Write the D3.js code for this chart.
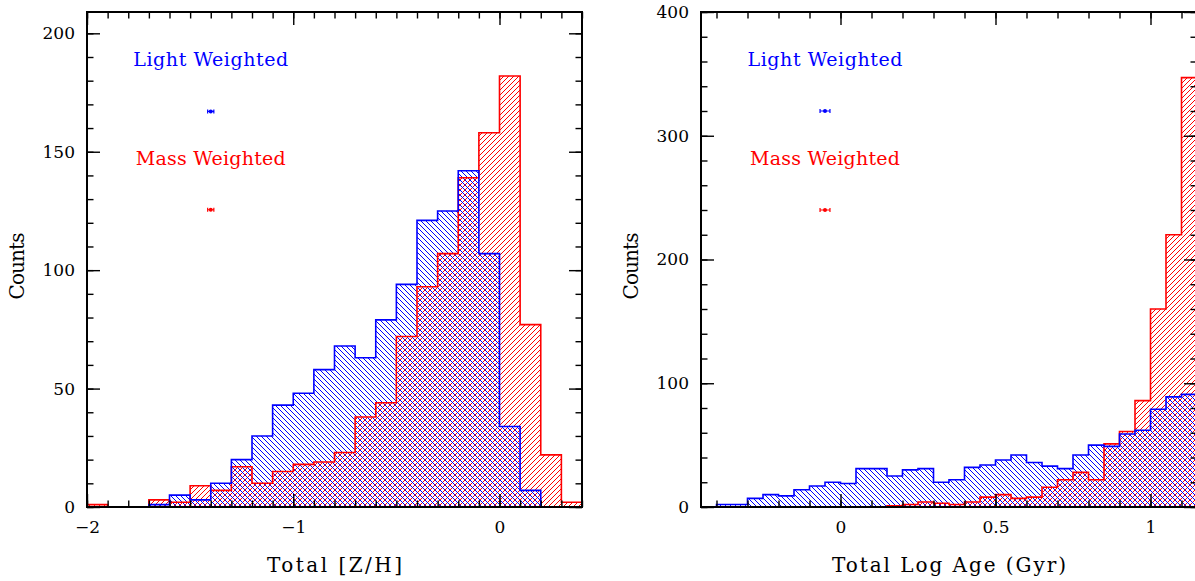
<!DOCTYPE html>
<html lang="en">
<head>
<meta charset="UTF-8"/>
<title>Light vs mass weighted histograms</title>
<script src="https://d3js.org/d3.v7.min.js"></script>
<style>
  body { margin: 0; background: #fff; }
  text { font-family: 'DejaVu Serif', serif; fill: #000; }
  .tick text { font-size: 17px; font-family: 'DejaVu Serif', serif; }
  .axis-title { font-size: 20px; }
  .legend { font-size: 19px; }
  .tick line { stroke: #000; stroke-width: 1.4px; }
</style>
</head>
<body>
<script>

// ---- data ----
// left panel: Total [Z/H], bins of 0.1 starting at -2.0
const zhBinStart = -2.0, zhBinWidth = 0.1
const zhLight = [0, 0, 0, 1, 5, 3, 10, 20, 30, 43, 48, 58, 68, 63, 79, 94, 121, 125, 142, 107, 34, 7, 0, 0]
const zhMass  = [1, 0, 0, 3, 2, 9, 7, 17, 10, 15, 18, 19, 23, 38, 44, 72, 93, 107, 139, 158, 182, 77, 22, 2]

// right panel: Total Log Age (Gyr), bins of 0.05 starting at -0.4
const ageBinStart = -0.4, ageBinWidth = 0.05
const ageLight = [2, 2, 7, 10, 9, 14, 17, 20, 19, 31, 31, 25, 30, 31, 20, 22, 32, 34, 38, 42, 36, 33, 31, 42, 50, 49, 59, 62, 79, 89, 91]
const ageMass  = [0, 0, 0, 0, 0, 0, 0, 0, 0, 0, 0, 1, 2, 4, 3, 2, 4, 8, 10, 7, 8, 16, 22, 28, 22, 51, 61, 86, 160, 220, 347]

const legendLabels = ["Light Weighted", "Mass Weighted"]
const seriesColors = ["#0000ff", "#ff0000"]

// typical error markers shown under each legend label
const zhMarkerX = -1.4, zhMarkerErr = 0.015, zhMarkerY = [167, 125.5]
const ageMarkerX = -0.05, ageMarkerErr = 0.016, ageMarkerY = [320, 240]

const zhTicks = [-2, -1, 0]
const ageTicks = [0, 0.5, 1]

// ---- layout ----
const outerWidth = 1195, outerHeight = 581
const plotTop = 12, plotBottom = 507
// the reference font is wide and evenly spaced, so stretch text to its widths
const legendWidths = [155, 150]

const svg = d3.select("body").append("svg")
    .attr("width", outerWidth)
    .attr("height", outerHeight)

// hatch patterns: blue "\" and red "/"
const defs = svg.append("defs")
const hatch = (id, color, d) => defs.append("pattern")
    .attr("id", id)
    .attr("patternUnits", "userSpaceOnUse")
    .attr("width", 5).attr("height", 5)
  .append("path")
    .attr("d", d)
    .attr("stroke", color)
    .attr("stroke-width", 1)
    .attr("fill", "none")
hatch("hatch-blue", seriesColors[0], "M0,0 L5,5 M-1,4 L1,6 M4,-1 L6,1")
hatch("hatch-red", seriesColors[1], "M0,5 L5,0 M-1,1 L1,-1 M4,6 L6,4")

const drawPanel = (opts) => {
  const { left, right, xDomain, yMax, binStart, binWidth, light, mass,
          xMajor, xMinorStep, yMajorStep, yMinorStep, xFormat, xTitle, xTitleWidth, countsX,
          markerX, markerErr, markerY } = opts

  const x = d3.scaleLinear().domain(xDomain).range([left, right])
  const y = d3.scaleLinear().domain([0, yMax]).range([plotBottom, plotTop])

  const g = svg.append("g")

  // clip to the frame
  const clipId = "clip" + left
  defs.append("clipPath").attr("id", clipId)
    .append("rect").attr("x", left).attr("y", plotTop)
    .attr("width", right - left).attr("height", plotBottom - plotTop)

  const stepPoints = values => {
    const pts = [[binStart, 0]]
    values.forEach((v, i) => {
      const x0 = binStart + i * binWidth
      pts.push([x0, v], [x0 + binWidth, v])
    })
    pts.push([binStart + values.length * binWidth, 0])
    return pts
  }
  const line = d3.line().x(d => x(d[0])).y(d => y(d[1]))

  const hist = g.append("g").attr("clip-path", `url(#${clipId})`)
  const series = [
    { values: mass, fill: "url(#hatch-red)", color: seriesColors[1] },
    { values: light, fill: "url(#hatch-blue)", color: seriesColors[0] }
  ]
  series.forEach(s => hist.append("path")
      .attr("d", line(stepPoints(s.values)) + "Z")
      .attr("fill", s.fill)
      .attr("stroke", "none"))
  series.forEach(s => hist.append("path")
      .attr("d", line(stepPoints(s.values)))
      .attr("fill", "none")
      .attr("stroke", s.color)
      .attr("stroke-width", 1.6))

  // ticks, inward on all four sides
  const xMinor = d3.range(Math.ceil(xDomain[0] / xMinorStep) * xMinorStep, xDomain[1] + 1e-9, xMinorStep)
  const yMajor = d3.range(0, yMax + 1e-9, yMajorStep)
  const yMinor = d3.range(0, yMax + 1e-9, yMinorStep)

  const axes = [
    [d3.axisBottom(x), `translate(0,${plotBottom})`, true],
    [d3.axisTop(x), `translate(0,${plotTop})`, false]
  ]
  axes.forEach(([ax, tr, labels]) => {
    g.append("g").attr("transform", tr)
      .call(ax.tickValues(xMinor).tickSize(-6.5).tickFormat(""))
      .call(a => a.select(".domain").remove())
    g.append("g").attr("transform", tr)
      .call(ax.tickValues(xMajor).tickSize(-13).tickPadding(14)
        .tickFormat(labels ? xFormat : ""))
      .call(a => a.select(".domain").remove())
  })
  const yAxes = [
    [d3.axisLeft(y), `translate(${left},0)`, true],
    [d3.axisRight(y), `translate(${right},0)`, false]
  ]
  yAxes.forEach(([ax, tr, labels]) => {
    g.append("g").attr("transform", tr)
      .call(ax.tickValues(yMinor).tickSize(-6.5).tickFormat(""))
      .call(a => a.select(".domain").remove())
    g.append("g").attr("transform", tr)
      .call(ax.tickValues(yMajor).tickSize(-13).tickPadding(12)
        .tickFormat(labels ? d3.format("d") : ""))
      .call(a => a.select(".domain").remove())
  })

  // frame
  g.append("rect")
    .attr("x", left).attr("y", plotTop)
    .attr("width", right - left).attr("height", plotBottom - plotTop)
    .attr("fill", "none").attr("stroke", "#000").attr("stroke-width", 2)

  // axis titles
  g.append("text")
    .attr("class", "axis-title")
    .attr("x", (left + right) / 2).attr("y", 572)
    .attr("text-anchor", "middle")
    .attr("textLength", xTitleWidth)
    .attr("lengthAdjust", "spacing")
    .text(xTitle)
  g.append("text")
    .attr("class", "axis-title")
    .attr("transform", `translate(${countsX},266) rotate(-90)`)
    .attr("text-anchor", "middle")
    .attr("textLength", 67)
    .attr("lengthAdjust", "spacing")
    .text("Counts")

  // legend labels with typical error markers
  legendLabels.forEach((label, i) => {
    const mx = x(markerX), my = y(markerY[i])
    g.append("text")
      .attr("class", "legend")
      .attr("x", mx).attr("y", my - 45)
      .attr("text-anchor", "middle")
      .attr("textLength", legendWidths[i])
      .attr("lengthAdjust", "spacing")
      .style("fill", seriesColors[i])
      .text(label)
    const x0 = x(markerX - markerErr), x1 = x(markerX + markerErr)
    g.append("path")
      .attr("d", `M${x0},${my}H${x1}M${x0},${my - 2}V${my + 2}M${x1},${my - 2}V${my + 2}`)
      .attr("stroke", seriesColors[i]).attr("stroke-width", 1.2).attr("fill", "none")
    g.append("circle")
      .attr("cx", mx).attr("cy", my).attr("r", 2)
      .attr("fill", seriesColors[i])
  })
}

drawPanel({
  left: 87, right: 582, xDomain: [-2, 0.4], yMax: 209,
  binStart: zhBinStart, binWidth: zhBinWidth, light: zhLight, mass: zhMass,
  xMajor: zhTicks, xMinorStep: 0.1, yMajorStep: 50, yMinorStep: 10,
  xFormat: d3.format("d"), xTitle: "Total [Z/H]", xTitleWidth: 135, countsX: 24,
  markerX: zhMarkerX, markerErr: zhMarkerErr, markerY: zhMarkerY
})

drawPanel({
  left: 701, right: 1197, xDomain: [-0.45, 1.15], yMax: 400,
  binStart: ageBinStart, binWidth: ageBinWidth, light: ageLight, mass: ageMass,
  xMajor: ageTicks, xMinorStep: 0.1, yMajorStep: 100, yMinorStep: 20,
  xFormat: d => d3.format("~g")(d), xTitle: "Total Log Age (Gyr)", xTitleWidth: 234, countsX: 638,
  markerX: ageMarkerX, markerErr: ageMarkerErr, markerY: ageMarkerY
})

</script>
</body>
</html>
